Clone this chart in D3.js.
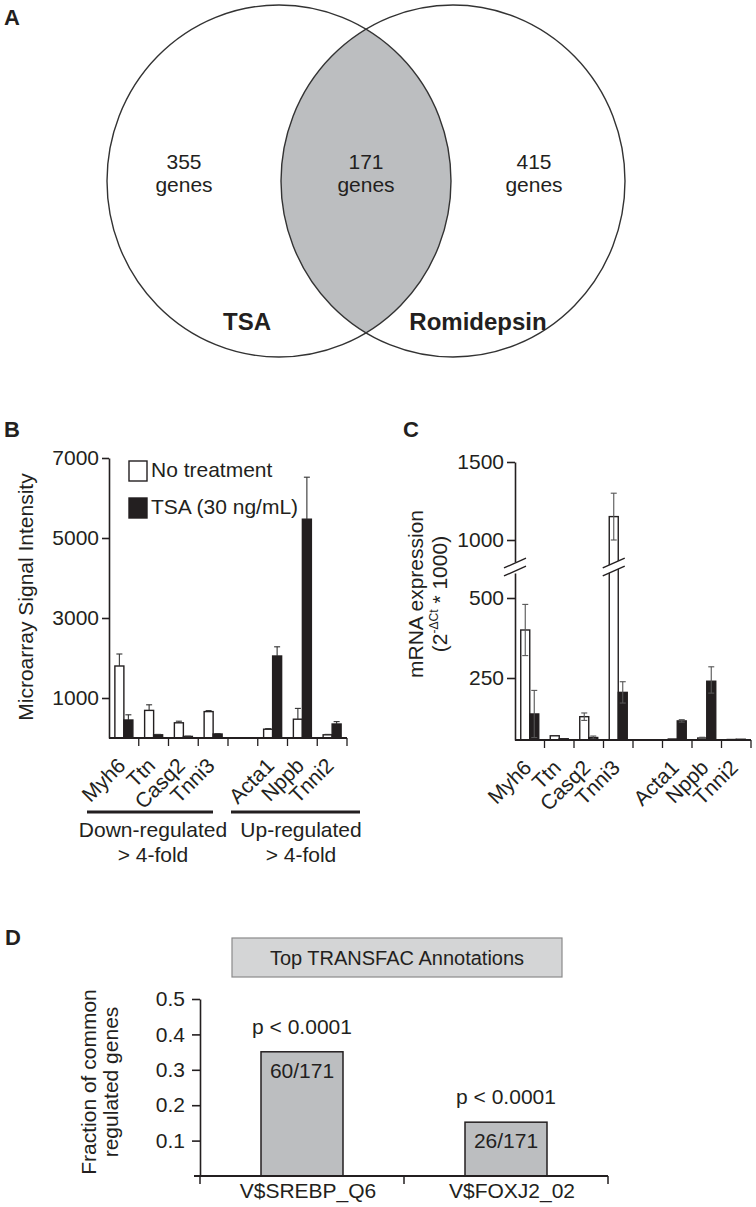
<!DOCTYPE html>
<html><head><meta charset="utf-8">
<script src="https://cdn.jsdelivr.net/npm/d3@7"></script>
<style>
body{margin:0;background:#fff}
svg{display:block}
text{font-family:"Liberation Sans",Arial,Helvetica,sans-serif;fill:#231f20}
</style>
</head><body>
<svg id="fig" width="756" height="1207"></svg>
<script>
// ---------------- data ----------------
const vennSets = ["TSA", "Romidepsin"];
const vennCounts = [355, 171, 415]; // TSA only, common, Romidepsin only

const genes = ["Myh6", "Ttn", "Casq2", "Tnni3", "", "Acta1", "Nppb", "Tnni2"];
const seriesNames = ["No treatment", "TSA (30 ng/mL)"];

const microNoTreat    = [1800, 690, 380, 660, null, 220, 470, 80];
const microNoTreatErr = [300, 140, 40, 25, null, 15, 270, 10];
const microTSA        = [450, 80, 40, 100, null, 2050, 5470, 350];
const microTSAErr     = [130, 10, 5, 10, null, 230, 1050, 60];
const microTicks = [1000, 3000, 5000, 7000];
const groupLabels = [["Down-regulated", "> 4-fold"], ["Up-regulated", "> 4-fold"]];

const mrnaNoTreat    = [400, 17, 94, 1150, null, 4, 8, 2];
const mrnaNoTreatErr = [80, 0, 15, 150, null, 0, 3, 0];
const mrnaTSA        = [105, 5, 10, 192, null, 77, 237, 3];
const mrnaTSAErr     = [95, 0, 6, 43, null, 5, 48, 0];
const mrnaTicksLow  = [250, 500];
const mrnaTicksHigh = [1000, 1500];

const tfNames  = ["V$SREBP_Q6", "V$FOXJ2_02"];
const tfCounts = [60, 26];
const tfTotal  = 171;
const tfP      = ["p < 0.0001", "p < 0.0001"];
const tfTicks  = [0.1, 0.2, 0.3, 0.4, 0.5];

// ---------------- drawing ----------------
const INK = "#231f20", GRAY = "#bcbec0";
const svg = d3.select("#fig");

function panelLabel(t, x, y) {
  svg.append("text").attr("x", x).attr("y", y).attr("font-size", 22)
    .attr("font-weight", "bold").text(t);
}
panelLabel("A", 4, 25);
panelLabel("B", 4, 437);
panelLabel("C", 403, 437);
panelLabel("D", 5, 945);

// ---------- Panel A : Venn ----------
const vennCx = d3.scaleOrdinal().domain(vennSets).range([279, 453]);
const vcy = 181, vrx = 172, vry = 176;
const defs = svg.append("defs");
defs.append("clipPath").attr("id", "clipL").append("ellipse")
  .attr("cx", vennCx(vennSets[0])).attr("cy", vcy).attr("rx", vrx).attr("ry", vry);
svg.append("ellipse").attr("clip-path", "url(#clipL)")
  .attr("cx", vennCx(vennSets[1])).attr("cy", vcy).attr("rx", vrx).attr("ry", vry)
  .attr("fill", GRAY);
svg.selectAll("ellipse.vset").data(vennSets).join("ellipse").attr("class", "vset")
  .attr("cx", d => vennCx(d)).attr("cy", vcy).attr("rx", vrx).attr("ry", vry)
  .attr("fill", "none").attr("stroke", "#333").attr("stroke-width", 1.4);
const vennTextX = [184, 366, 534];
vennCounts.forEach((c, i) => {
  const t = svg.append("text").attr("text-anchor", "middle").attr("font-size", 21).attr("fill", "#333");
  t.append("tspan").attr("x", vennTextX[i]).attr("y", 169).text(c);
  t.append("tspan").attr("x", vennTextX[i]).attr("y", 192).text("genes");
});
const vennLabX = [247, 478];
vennSets.forEach((s, i) => {
  svg.append("text").attr("x", vennLabX[i]).attr("y", 330).attr("text-anchor", "middle")
    .attr("font-size", 24).attr("font-weight", "bold").attr("fill", "#333").text(s);
});

// ---------- shared bar drawing ----------
function drawPairs(g, x, yf, baseY, vals, errs, twoSided, errColor) {
  const bw = x.bandwidth();
  const sub = d3.scaleBand().domain(seriesNames).range([bw / 2 - 9, bw / 2 + 9]);
  vals.forEach((arr, si) => {
    genes.forEach((gname, i) => {
      const v = arr[i];
      if (v == null) return;
      const x0 = x(gname) + sub(seriesNames[si]);
      const yTop = yf(v);
      g.append("rect").attr("x", x0).attr("y", yTop).attr("width", sub.bandwidth())
        .attr("height", Math.max(0, baseY - yTop))
        .attr("fill", si === 0 ? "#fff" : INK).attr("stroke", INK).attr("stroke-width", 1.4);
      const e = errs[si][i];
      if (e > 0) {
        const cx = x0 + sub.bandwidth() / 2;
        const yHi = yf(v + e), yLo = twoSided ? yf(Math.max(0, v - e)) : yTop;
        const col = errColor;
        g.append("line").attr("x1", cx).attr("x2", cx).attr("y1", yLo).attr("y2", yHi)
          .attr("stroke", col).attr("stroke-width", 1.1);
        g.append("line").attr("x1", cx - 3).attr("x2", cx + 3).attr("y1", yHi).attr("y2", yHi)
          .attr("stroke", col).attr("stroke-width", 1.1);
        if (twoSided) g.append("line").attr("x1", cx - 3).attr("x2", cx + 3).attr("y1", yLo).attr("y2", yLo)
          .attr("stroke", col).attr("stroke-width", 1.1);
      }
    });
  });
}
function xAxisCats(g, x, baseY, x0) {
  const r = x.range();
  g.append("line").attr("x1", x0).attr("x2", r[1]).attr("y1", baseY).attr("y2", baseY)
    .attr("stroke", INK).attr("stroke-width", 1.8);
  genes.forEach(gn => {
    const xe = x(gn) + x.bandwidth();
    g.append("line").attr("x1", xe).attr("x2", xe).attr("y1", baseY).attr("y2", baseY + 8)
      .attr("stroke", INK).attr("stroke-width", 1.3);
    if (gn) g.append("text").attr("text-anchor", "end").attr("font-size", 21)
      .attr("transform", `translate(${x(gn) + x.bandwidth() / 2 + 3},${baseY + 29}) rotate(-45)`)
      .text(gn);
  });
}
function styleAxis(sel) {
  sel.selectAll("path,line").attr("stroke", INK).attr("stroke-width", 1.6);
  sel.selectAll("text").attr("font-size", 21).attr("fill", INK)
    .attr("font-family", '"Liberation Sans",Arial,sans-serif');
}
const intFmt = d3.format("d");

// ---------- Panel B ----------
const gB = svg.append("g");
const xB = d3.scaleBand().domain(genes).range([109, 347]);
const yB = d3.scaleLinear().domain([0, 7000]).range([738, 458]);
drawPairs(gB, xB, yB, 738, [microNoTreat, microTSA], [microNoTreatErr, microTSAErr], false, "#333");
gB.append("g").attr("transform", "translate(109,0)")
  .call(d3.axisLeft(yB).tickValues(microTicks).tickFormat(intFmt).tickSize(7).tickSizeOuter(0).tickPadding(3))
  .call(styleAxis);
xAxisCats(gB, xB, 738, 109);
gB.append("text").attr("transform", "translate(33,597) rotate(-90)").attr("text-anchor", "middle")
  .attr("font-size", 21).text("Microarray Signal Intensity");
// legend
const legY = [461, 498];
seriesNames.forEach((s, i) => {
  gB.append("rect").attr("x", 129).attr("y", legY[i]).attr("width", 18).attr("height", 20)
    .attr("fill", i === 0 ? "#fff" : INK).attr("stroke", INK).attr("stroke-width", 1.4);
  gB.append("text").attr("x", 151).attr("y", legY[i] + 16).attr("font-size", 21).text(s);
});
// group labels
const grpLines = [[87, 213], [231, 360]];
const grpTextX = [153, 301];
groupLabels.forEach((gl, i) => {
  gB.append("line").attr("x1", grpLines[i][0]).attr("x2", grpLines[i][1]).attr("y1", 812).attr("y2", 812)
    .attr("stroke", INK).attr("stroke-width", 3.2);
  const t = gB.append("text").attr("text-anchor", "middle").attr("font-size", 21).attr("fill", "#333");
  t.append("tspan").attr("x", grpTextX[i]).attr("y", 837).text(gl[0]);
  t.append("tspan").attr("x", grpTextX[i]).attr("y", 862).text(gl[1]);
});

// ---------- Panel C ----------
const gC = svg.append("g");
const xC = d3.scaleBand().domain(genes).range([515, 751]);
const yCLow = d3.scaleLinear().domain([0, 250, 500, 580]).range([740, 678, 598, 573]);
const yCHigh = d3.scaleLinear().domain([860, 1000, 1500]).range([562, 540, 462]);
const yC = v => (v <= 580 ? yCLow(v) : yCHigh(Math.max(v, 860)));
drawPairs(gC, xC, yC, 740, [mrnaNoTreat, mrnaTSA], [mrnaNoTreatErr, mrnaTSAErr], true, "#555");
gC.append("g").attr("transform", "translate(515,0)")
  .call(d3.axisLeft(yCLow).tickValues(mrnaTicksLow).tickFormat(intFmt).tickSize(8).tickSizeOuter(0).tickPadding(3))
  .call(styleAxis);
gC.append("g").attr("transform", "translate(515,0)")
  .call(d3.axisLeft(yCHigh).tickValues(mrnaTicksHigh).tickFormat(intFmt).tickSize(8).tickSizeOuter(0).tickPadding(3))
  .call(styleAxis);
xAxisCats(gC, xC, 740, 515);
// axis breaks
function brk(cx, half) {
  const yTop = 563, yBot = 571, s = 0.45;
  gC.append("polygon").attr("points",
    [[cx - half, yTop + s * half], [cx + half, yTop - s * half], [cx + half, yBot - s * half], [cx - half, yBot + s * half]]
      .map(p => p.join(",")).join(" ")).attr("fill", "#fff");
  [yTop, yBot].forEach(yy => gC.append("line")
    .attr("x1", cx - half).attr("y1", yy + s * half).attr("x2", cx + half).attr("y2", yy - s * half)
    .attr("stroke", INK).attr("stroke-width", 1.4));
}
brk(515, 11);
brk(xC("Tnni3") + xC.bandwidth() / 2 - 4.5, 11);
gC.append("text").attr("transform", "translate(423,594) rotate(-90)").attr("text-anchor", "middle")
  .attr("font-size", 21).text("mRNA expression");
const t2 = gC.append("text").attr("transform", "translate(447,594) rotate(-90)").attr("text-anchor", "middle")
  .attr("font-size", 21);
t2.append("tspan").text("(2");
t2.append("tspan").attr("font-size", 12).attr("dy", -9).text("-ΔCt");
t2.append("tspan").attr("dy", 9).text(" * 1000)");

// ---------- Panel D ----------
const gD = svg.append("g");
gD.append("rect").attr("x", 232).attr("y", 938).attr("width", 330).attr("height", 39)
  .attr("fill", "#d4d5d6").attr("stroke", "#8a8a8a").attr("stroke-width", 1.2);
gD.append("text").attr("x", 397).attr("y", 965).attr("text-anchor", "middle").attr("font-size", 20)
  .text("Top TRANSFAC Annotations");
const xD = d3.scaleBand().domain(tfNames).range([200, 608]);
const yD = d3.scaleLinear().domain([0, 0.5]).range([1176, 999]);
const barW = 82;
tfNames.forEach((n, i) => {
  const frac = tfCounts[i] / tfTotal;
  const cx = xD(n) + xD.bandwidth() / 2;
  gD.append("rect").attr("x", cx - barW / 2).attr("y", yD(frac)).attr("width", barW)
    .attr("height", yD(0) - yD(frac)).attr("fill", GRAY).attr("stroke", INK).attr("stroke-width", 1.5);
  gD.append("text").attr("x", cx).attr("y", yD(frac) + 26).attr("text-anchor", "middle")
    .attr("font-size", 21).attr("fill", "#333").text(`${tfCounts[i]}/${tfTotal}`);
  gD.append("text").attr("x", cx).attr("y", yD(frac) - 18).attr("text-anchor", "middle")
    .attr("font-size", 21).attr("fill", "#333").text(tfP[i]);
  gD.append("text").attr("x", cx + 6).attr("y", 1198).attr("text-anchor", "middle")
    .attr("font-size", 21).text(n);
});
gD.append("g").attr("transform", "translate(200,0)")
  .call(d3.axisLeft(yD).tickValues(tfTicks).tickFormat(d3.format(".1f")).tickSize(8).tickSizeOuter(0).tickPadding(7))
  .call(styleAxis);
gD.append("line").attr("x1", 194).attr("x2", 608).attr("y1", 1176).attr("y2", 1176)
  .attr("stroke", INK).attr("stroke-width", 1.8);
[200, ...tfNames.map(n => xD(n) + xD.bandwidth())].forEach(xx =>
  gD.append("line").attr("x1", xx).attr("x2", xx).attr("y1", 1176).attr("y2", 1184)
    .attr("stroke", INK).attr("stroke-width", 1.5));
const dt = gD.append("text").attr("transform", "translate(96,1082) rotate(-90)").attr("text-anchor", "middle")
  .attr("font-size", 21).attr("fill", "#333");
dt.append("tspan").attr("x", 0).attr("y", 0).text("Fraction of common");
dt.append("tspan").attr("x", 0).attr("y", 22).text("regulated genes");
</script>
</body></html>
